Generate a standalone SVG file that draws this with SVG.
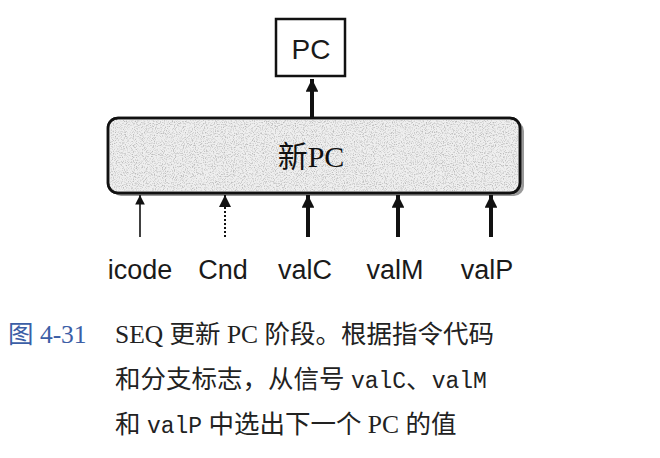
<svg xmlns="http://www.w3.org/2000/svg" width="660" height="458" viewBox="0 0 660 458">
<defs>
<style>
.lbl{font-family:"Liberation Sans","Noto Sans CJK SC",sans-serif;font-size:27px;fill:#1a1a1a;text-anchor:middle}
.cap{font-family:"Liberation Serif","Noto Sans CJK SC",serif;font-size:25.5px;fill:#222}
.mono{font-family:"Liberation Mono","DejaVu Sans Mono",monospace;font-size:23px}
.thick{stroke:#111;stroke-width:4;fill:none}
.thin{stroke:#111;stroke-width:1.6;fill:none}
.dot{stroke:#111;stroke-width:2;stroke-dasharray:2 2;fill:none}
</style>
<marker id="ahT" viewBox="0 0 10 10" refX="10" refY="5" markerWidth="3.4" markerHeight="3.2" orient="auto" markerUnits="strokeWidth"><path d="M0,0 L10,5 L0,10 z" fill="#111"/></marker>
<marker id="ahS" viewBox="0 0 10 10" refX="10" refY="5" markerWidth="6" markerHeight="6" orient="auto" markerUnits="strokeWidth"><path d="M0,0 L10,5 L0,10 z" fill="#111"/></marker>
<filter id="speck" x="0" y="0" width="1" height="1">
<feTurbulence type="fractalNoise" baseFrequency="0.9" numOctaves="2" seed="3" result="n"/>
<feColorMatrix in="n" type="matrix" values="0 0 0 0 0.5  0 0 0 0 0.5  0 0 0 0 0.5  0 0 0 -3 1.6" result="s"/>
<feComposite in="s" in2="SourceGraphic" operator="in"/>
</filter>
</defs>
<rect width="660" height="458" fill="#fff"/>
<g id="pc">
<rect x="276" y="19" width="69" height="57" fill="#fff" stroke="#111" stroke-width="2.5"/>
<text class="lbl" x="311" y="59" style="font-size:28px">PC</text>
</g>
<g id="newpc">
<rect x="111" y="121" width="413" height="75" rx="10" fill="#9a9a9a"/>
<rect x="108" y="118" width="412" height="75" rx="10" fill="#efefef" stroke="#111" stroke-width="2.5"/>
<rect x="108" y="118" width="412" height="75" rx="10" fill="#fff" filter="url(#speck)"/>
<rect x="108" y="118" width="412" height="75" rx="10" fill="none" stroke="#111" stroke-width="2.5"/>
<text x="311" y="167" style="font-family:'Liberation Serif','Noto Sans CJK SC',serif;font-size:30px;fill:#111;text-anchor:middle">新PC</text>
</g>
<g id="connectors">
<line class="thick" x1="312" y1="117" x2="312" y2="79" marker-end="url(#ahT)"/>
<line class="thin" x1="140" y1="237" x2="140" y2="195" marker-end="url(#ahS)"/>
<line class="dot" x1="225" y1="237" x2="225" y2="195" marker-end="url(#ahS)"/>
<line class="thick" x1="308" y1="237" x2="308" y2="195" marker-end="url(#ahT)"/>
<line class="thick" x1="398" y1="237" x2="398" y2="195" marker-end="url(#ahT)"/>
<line class="thick" x1="491" y1="237" x2="491" y2="195" marker-end="url(#ahT)"/>
</g>
<g id="labels">
<text class="lbl" x="140" y="279">icode</text>
<text class="lbl" x="223" y="279">Cnd</text>
<text class="lbl" x="305" y="279">valC</text>
<text class="lbl" x="395" y="279">valM</text>
<text class="lbl" x="487" y="279">valP</text>
</g>
<g id="caption">
<text class="cap" x="8" y="343" style="fill:#3b5ea6">图 4-31</text>
<text class="cap" x="115" y="343">SEQ 更新 PC 阶段。根据指令代码</text>
<text class="cap" x="115" y="388">和分支标志，从信号 <tspan class="mono">valC</tspan>、<tspan class="mono">valM</tspan></text>
<text class="cap" x="115" y="433">和 <tspan class="mono">valP</tspan> 中选出下一个 PC 的值</text>
</g>
</svg>
